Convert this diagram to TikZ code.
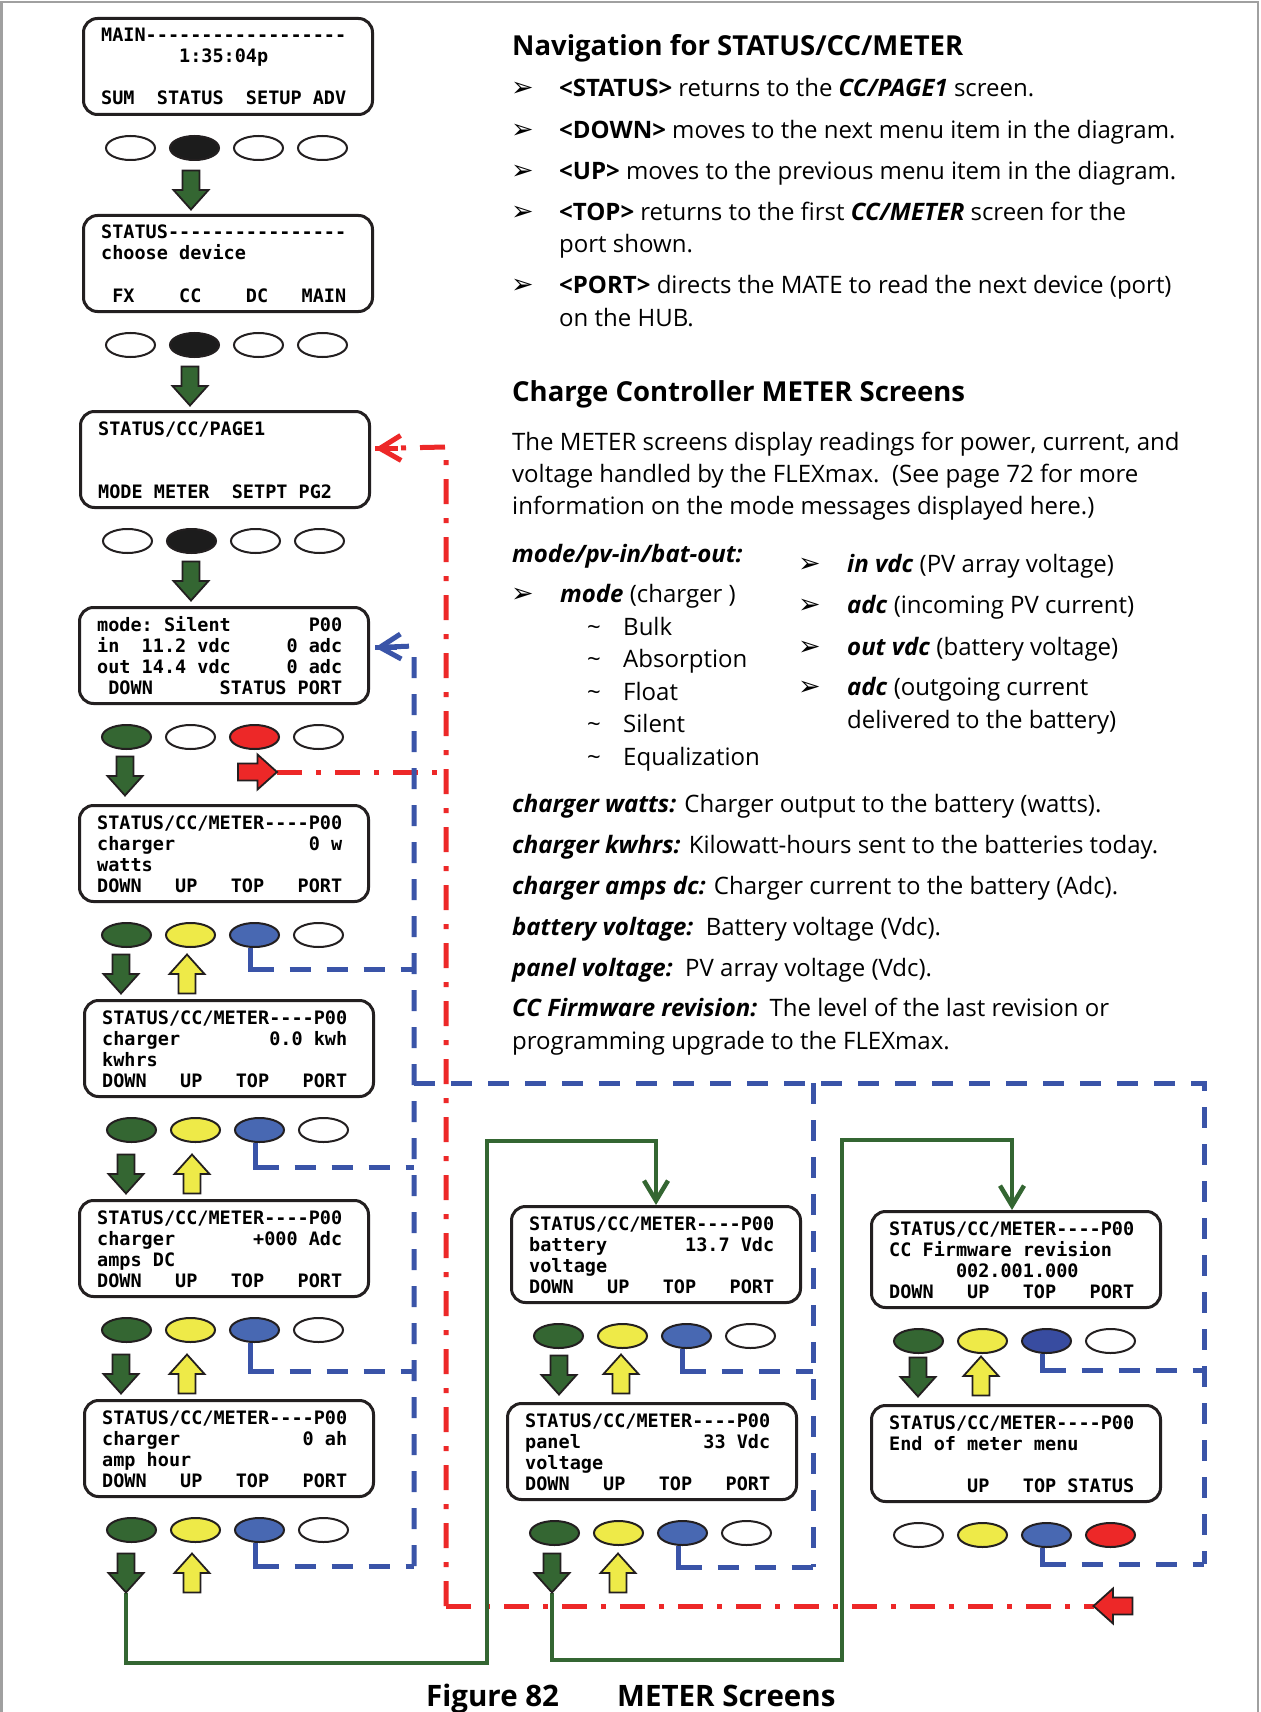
\documentclass[tikz,border=0pt]{standalone}
\usepackage{fontspec}
\setmainfont{Open Sans}
\setmonofont{DejaVu Sans Mono}
\newfontfamily\dejavu{DejaVu Sans}
\usetikzlibrary{shapes.geometric,arrows.meta,calc}
\pgfdeclarelayer{back}
\pgfdeclarelayer{bg}
\pgfsetlayers{back,bg,main}
\definecolor{ggreen}{RGB}{52,102,50}
\definecolor{gyellow}{RGB}{238,234,72}
\definecolor{gblue}{RGB}{72,104,178}
\definecolor{gdblue}{RGB}{56,76,160}
\definecolor{gred}{RGB}{237,40,40}
\definecolor{gblack}{RGB}{28,28,28}
\definecolor{lblue}{RGB}{58,84,168}
\definecolor{lred}{RGB}{237,40,40}
\definecolor{lcdline}{RGB}{35,31,32}
\definecolor{framegray}{RGB}{160,160,160}
\newcommand\lcdfont{\ttfamily\bfseries\fontsize{18.5}{21}\selectfont}
\newcommand\bodyfont{\fontsize{24}{28}\selectfont}
\newcommand\headfont{\bfseries\fontsize{27.5}{31}\selectfont}
\newcommand\capfont{\bfseries\fontsize{29.5}{34}\selectfont}
\newcommand\bul{{\dejavu\fontsize{27}{30}\selectfont ➢}}
\newcommand\bi[1]{\textbf{\textit{#1}}}
\tikzset{
  lcd/.style={draw=lcdline, line width=3pt, rounded corners=14pt, minimum width=289pt, minimum height=96pt, inner sep=0pt, anchor=north west},
  lcdtxt/.style={anchor=base west, inner sep=0pt, font=\lcdfont},
  btn/.style={ellipse, draw=lcdline, line width=2pt, minimum width=49pt, minimum height=24pt, inner sep=0pt},
  barrowstyle/.style={draw=lcdline, line width=1.8pt, line join=miter},
  bluedash/.style={draw=lblue, line width=5pt, dash pattern=on 21pt off 16pt},
  bluesolid/.style={draw=lblue, line width=5pt},
  reddash/.style={draw=lred, line width=5pt, dash pattern=on 25pt off 14pt on 5pt off 14pt},
  redsolid/.style={draw=lred, line width=5pt},
  gline/.style={draw=ggreen, line width=4.5pt},
  gbarb/.style={-{Straight Barb[length=20pt,width=24pt]}},
  cbarb/.style={-{Straight Barb[length=21pt,width=25pt]}},
  body/.style={anchor=base west, inner sep=0pt, font=\bodyfont},
  head/.style={anchor=base west, inner sep=0pt, font=\headfont},
  bullet/.style={anchor=base west, inner sep=0pt},
  captxt/.style={anchor=base west, inner sep=0pt, font=\capfont},
  pics/barrow/.style={code={
    \filldraw[fill=#1, barrowstyle] (-8.5,-19.5) -- (8.5,-19.5) -- (8.5,0) -- (17.5,0) -- (0,19.5) -- (-17.5,0) -- (-8.5,0) -- cycle;
    \coordinate (-tip) at (0,19.5);
  }},
}
\newcommand\lcdscreen[7]{%
  \node[lcd] (#1) at (#2,#3) {};
  \node[lcdtxt] (#1r1) at ($(#1.north west)+(19,25)$) {#4};
  \node[lcdtxt] (#1r2) at ($(#1.north west)+(19,46)$) {#5};
  \node[lcdtxt] (#1r3) at ($(#1.north west)+(19,67)$) {#6};
  \node[lcdtxt] (#1r4) at ($(#1.north west)+(19,88)$) {#7};
}
\newcommand\btnrow[7]{%
  \node[btn, fill=#4] (#11) at (#2+48.5, #3+131) {};
  \node[btn, fill=#5] (#12) at (#2+112.5, #3+131) {};
  \node[btn, fill=#6] (#13) at (#2+176.5, #3+131) {};
  \node[btn, fill=#7] (#14) at (#2+240.5, #3+131) {};
}
% TOP link: solid L-corner under the blue button, then dashed run to the collector line
\newcommand\toplink[3]{% button node, collector x, run y
  \draw[bluesolid] ([xshift=-4pt]#1.south) |- ($(#1.south |- 0,#3)+(19,0)$);
  \draw[bluedash, dash phase=21pt] ($(#1.south |- 0,#3)+(19,0)$) -- (#2,#3);
}
\begin{document}
\begin{tikzpicture}[x=1pt,y=-1pt]
\useasboundingbox (0,0) rectangle (1260,1712);
\begin{pgfonlayer}{back}
  \fill[white] (0,0) rectangle (1260,1712);
  \draw[framegray, line width=2.5pt] (1.5,1712) -- (1.5,2) -- (1258,2) -- (1258,1712);
\end{pgfonlayer}

% ---------------- screens ----------------
\lcdscreen{s1}{82}{17}{MAIN------------------}{~~~~~~~1:35:04p}{}{SUM~~STATUS~~SETUP~ADV}
\lcdscreen{s2}{82}{214}{STATUS----------------}{choose~device}{}{~FX~~~~CC~~~~DC~~~MAIN}
\lcdscreen{s3}{79}{410}{STATUS/CC/PAGE1}{}{}{MODE~METER~~SETPT~PG2}
\lcdscreen{s4}{78}{606}{mode:~Silent~~~~~~~P00}{in~~11.2~vdc~~~~~0~adc}{out~14.4~vdc~~~~~0~adc}{~DOWN~~~~~~STATUS~PORT}
\lcdscreen{s5}{78}{804}{STATUS/CC/METER----P00}{charger~~~~~~~~~~~~0~w}{watts}{DOWN~~~UP~~~TOP~~~PORT}
\lcdscreen{s6}{83}{999}{STATUS/CC/METER----P00}{charger~~~~~~~~0.0~kwh}{kwhrs}{DOWN~~~UP~~~TOP~~~PORT}
\lcdscreen{s7}{78}{1199}{STATUS/CC/METER----P00}{charger~~~~~~~+000~Adc}{amps~DC}{DOWN~~~UP~~~TOP~~~PORT}
\lcdscreen{s8}{83}{1399}{STATUS/CC/METER----P00}{charger~~~~~~~~~~~0~ah}{amp~hour}{DOWN~~~UP~~~TOP~~~PORT}
\lcdscreen{sb}{510}{1205}{STATUS/CC/METER----P00}{battery~~~~~~~13.7~Vdc}{voltage}{DOWN~~~UP~~~TOP~~~PORT}
\lcdscreen{sp}{506}{1402}{STATUS/CC/METER----P00}{panel~~~~~~~~~~~33~Vdc}{voltage}{DOWN~~~UP~~~TOP~~~PORT}
\lcdscreen{sf}{870}{1210}{STATUS/CC/METER----P00}{CC~Firmware~revision}{~~~~~~002.001.000}{DOWN~~~UP~~~TOP~~~PORT}
\lcdscreen{se}{870}{1404}{STATUS/CC/METER----P00}{End~of~meter~menu}{}{~~~~~~~UP~~~TOP~STATUS}

% ---------------- buttons ----------------
\btnrow{b1}{82}{17}{white}{gblack}{white}{white}
\btnrow{b2}{82}{214}{white}{gblack}{white}{white}
\btnrow{b3}{79}{410}{white}{gblack}{white}{white}
\btnrow{b4}{78}{606}{ggreen}{white}{gred}{white}
\btnrow{b5}{78}{804}{ggreen}{gyellow}{gblue}{white}
\btnrow{b6}{83}{999}{ggreen}{gyellow}{gblue}{white}
\btnrow{b7}{78}{1199}{ggreen}{gyellow}{gblue}{white}
\btnrow{b8}{83}{1399}{ggreen}{gyellow}{gblue}{white}
\btnrow{bb}{510}{1205}{ggreen}{gyellow}{gblue}{white}
\btnrow{bp}{506}{1402}{ggreen}{gyellow}{gblue}{white}
\btnrow{bf}{870}{1210}{ggreen}{gyellow}{gdblue}{white}
\btnrow{be}{870}{1404}{white}{gyellow}{gblue}{gred}

% ---------------- block arrows ----------------
\pic (a1) at (191,190) {barrow=ggreen};
\pic (a2) at (190,386) {barrow=ggreen};
\pic (a3) at (191,581) {barrow=ggreen};
\pic (a4) at (125,776) {barrow=ggreen};
\pic[rotate=90] (r4) at (257.5,772) {barrow=gred};
\pic (a5) at (121,974) {barrow=ggreen};
\pic[rotate=180] (y5) at (187,974) {barrow=gyellow};
\pic (a6) at (126,1174) {barrow=ggreen};
\pic[rotate=180] (y6) at (192,1174) {barrow=gyellow};
\pic (a7) at (121,1374) {barrow=ggreen};
\pic[rotate=180] (y7) at (187,1374) {barrow=gyellow};
\pic (a8) at (126,1573) {barrow=ggreen};
\pic[rotate=180] (y8) at (192,1573) {barrow=gyellow};
\pic (ab) at (559,1375) {barrow=ggreen};
\pic[rotate=180] (yb) at (621,1374) {barrow=gyellow};
\pic (ap) at (552,1573) {barrow=ggreen};
\pic[rotate=180] (yp) at (618,1573) {barrow=gyellow};
\pic (af) at (918,1377) {barrow=ggreen};
\pic[rotate=180] (yf) at (981,1376) {barrow=gyellow};
\pic[rotate=-90] (re) at (1113,1606) {barrow=gred};

% ---------------- connectors ----------------
\begin{pgfonlayer}{bg}
  % red STATUS return
  \coordinate (rT) at (446,447);
  \coordinate (rM) at (446,772);
  \coordinate (rB) at (446,1606);
  \draw[reddash, cbarb] (rB) -- (rT) -- ([xshift=4pt,yshift=11pt]s3.east);
  \draw[redsolid] ([xshift=4pt,yshift=11pt]s3.east) -- ++(23,0);
  \draw[reddash] (r4-tip) -- (rM);
  \draw[reddash] (rB) -- (re-tip);
  % blue TOP return
  \coordinate (bLb) at (414,1566);
  \coordinate (bLt) at (414,646);
  \coordinate (bH1) at (414,1083);
  \coordinate (bH2) at (1204,1083);
  \coordinate (bRb) at (1204,1564);
  \coordinate (bM1) at (813,1083);
  \coordinate (bMb) at (813,1567);
  \draw[bluedash, cbarb] (bLb) -- (bLt) -- ([xshift=5pt,yshift=8pt]s4.east);
  \draw[bluesolid] ([xshift=5pt,yshift=8pt]s4.east) -- ++(22,0);
  \draw[bluedash] (bH1) -- (bH2) -- (bRb);
  \draw[bluedash] (bM1) -- (bMb);
  \toplink{b53}{414}{969}
  \toplink{b63}{414}{1167}
  \toplink{b73}{414}{1371}
  \toplink{b83}{414}{1566}
  \toplink{bb3}{813}{1371}
  \toplink{bp3}{813}{1567}
  \toplink{bf3}{1204}{1370}
  \toplink{be3}{1204}{1564}
  % green DOWN continuation
  \draw[gline, gbarb] (a8-tip) -- ++(0,70.5) -| (487,1141) -| (sb.north);
  \draw[gline, gbarb] (ap-tip) -- ++(0,67.5) -| (842,1140) -| ([xshift=-4pt]sf.north);
\end{pgfonlayer}

% ---------------- text ----------------
\node[head] (h1) at (512,56) {Navigation for STATUS/CC/METER};
\node[bullet] (u1) at (511,97) {\bul};
\node[body] (t1) at (559,97) {\textbf{<STATUS>} returns to the \bi{CC/PAGE1} screen.};
\node[bullet] (u2) at (511,138.5) {\bul};
\node[body] (t2) at (559,138.5) {\textbf{<DOWN>} moves to the next menu item in the diagram.};
\node[bullet] (u3) at (511,180) {\bul};
\node[body] (t3) at (559,180) {\textbf{<UP>} moves to the previous menu item in the diagram.};
\node[bullet] (u4) at (511,220.5) {\bul};
\node[body] (t4) at (559,220.5) {\textbf{<TOP>} returns to the first \bi{CC/METER} screen for the};
\node[body] (t4b) at (559,253) {port shown.};
\node[bullet] (u5) at (511,293.5) {\bul};
\node[body] (t5) at (559,293.5) {\textbf{<PORT>} directs the MATE to read the next device (port)};
\node[body] (t5b) at (559,326) {on the HUB.};

\node[head] (h2) at (512,401) {Charge Controller METER Screens};
\node[body] (p1) at (512,450) {The METER screens display readings for power, current, and};
\node[body] (p2) at (512,482) {voltage handled by the FLEXmax.\ \ (See page 72 for more};
\node[body] (p3) at (512,514) {information on the mode messages displayed here.)};

\node[body] (m0) at (512,562) {\bi{mode/pv-in/bat-out:}};
\node[bullet] (mu) at (511,602) {\bul};
\node[body] (m1) at (560,602) {\bi{mode} (charger )};
\foreach \y/\w [count=\k] in {635/Bulk, 667.5/Absorption, 700/Float, 732.5/Silent, 765/Equalization}{
  \node[body] (mt\k) at (587,\y) {\textasciitilde};
  \node[body] (mw\k) at (623,\y) {\w};
}
\node[bullet] (v1) at (798,572) {\bul};
\node[body] (w1) at (847,572) {\bi{in vdc} (PV array voltage)};
\node[bullet] (v2) at (798,613) {\bul};
\node[body] (w2) at (847,613) {\bi{adc} (incoming PV current)};
\node[bullet] (v3) at (798,655) {\bul};
\node[body] (w3) at (847,655) {\bi{out vdc} (battery voltage)};
\node[bullet] (v4) at (798,695) {\bul};
\node[body] (w4) at (847,695) {\bi{adc} (outgoing current};
\node[body] (w4b) at (847,728) {delivered to the battery)};

\node[body] (d1) at (512,812) {\bi{charger watts:} Charger output to the battery (watts).};
\node[body] (d2) at (512,853.5) {\bi{charger kwhrs:} Kilowatt-hours sent to the batteries today.};
\node[body] (d3) at (512,894) {\bi{charger amps dc:} Charger current to the battery (Adc).};
\node[body] (d4) at (512,935) {\bi{battery voltage:}\ \ Battery voltage (Vdc).};
\node[body] (d5) at (512,976) {\bi{panel voltage:}\ \ PV array voltage (Vdc).};
\node[body] (d6) at (512,1016) {\bi{CC Firmware revision:}\ \ The level of the last revision or};
\node[body] (d6b) at (512,1049) {programming upgrade to the FLEXmax.};

\node[captxt] (c1) at (426,1706) {Figure 82};
\node[captxt] (c2) at (617,1706) {METER Screens};
\end{tikzpicture}
\end{document}
